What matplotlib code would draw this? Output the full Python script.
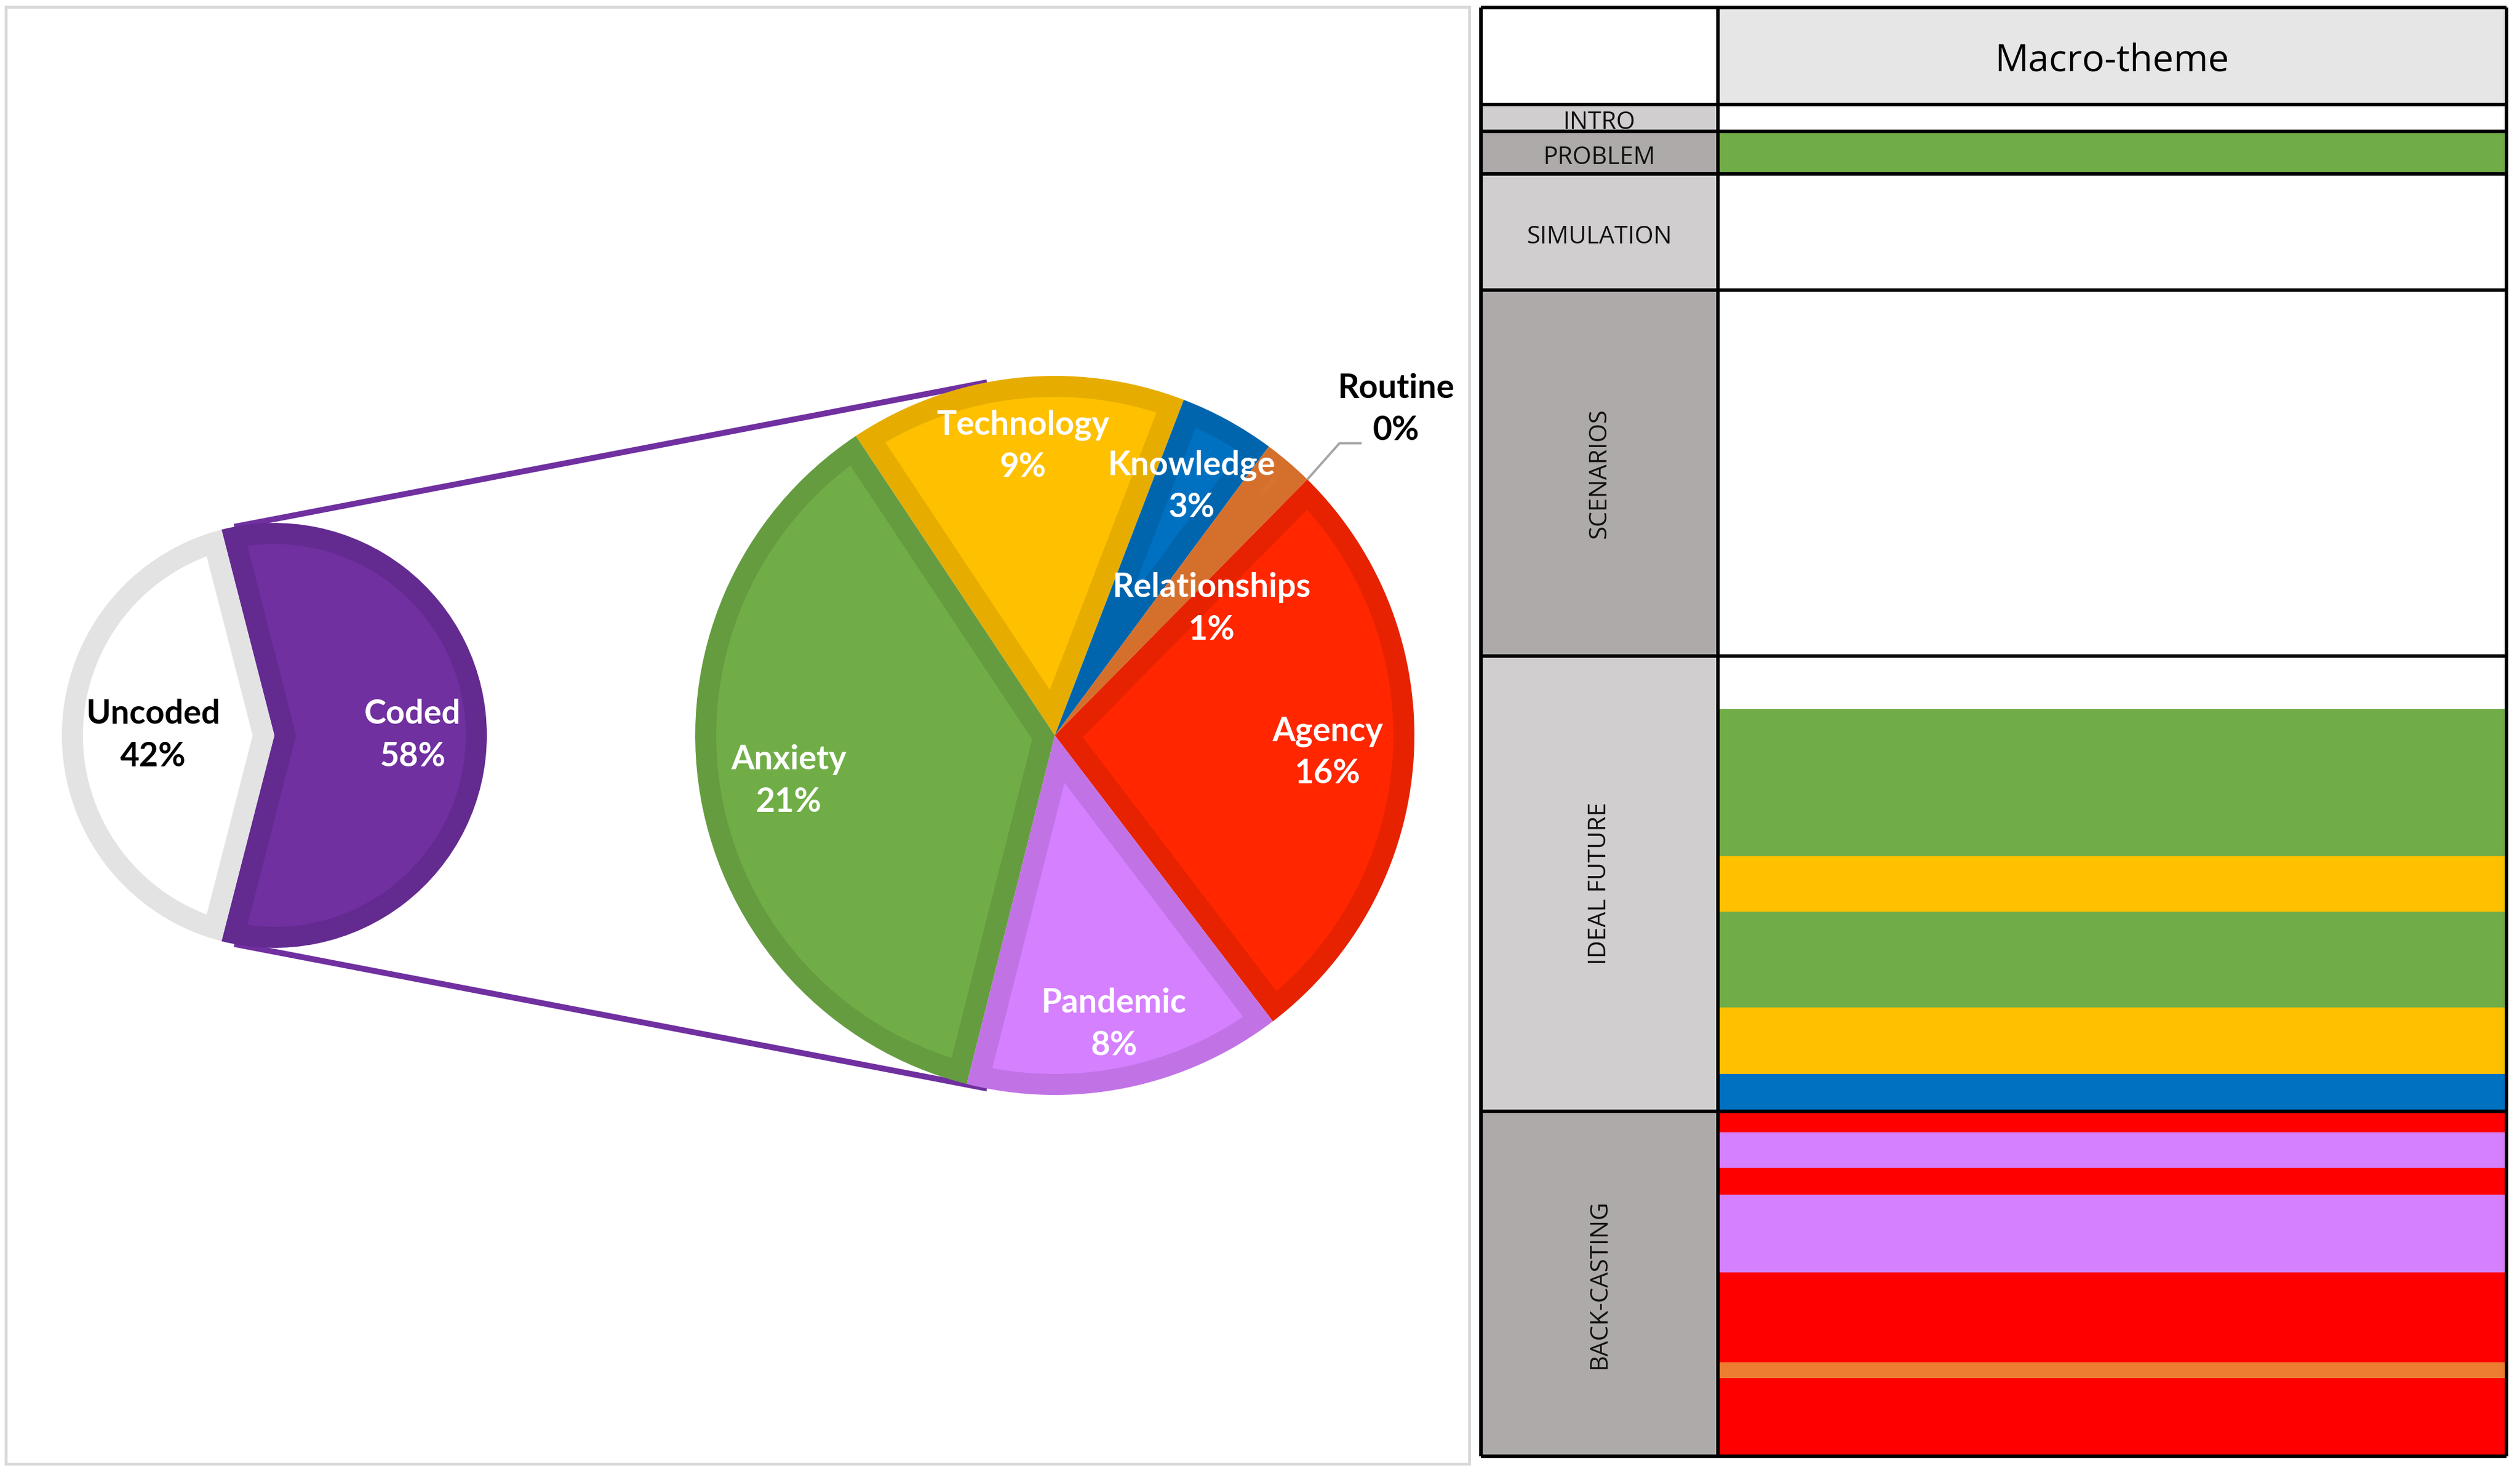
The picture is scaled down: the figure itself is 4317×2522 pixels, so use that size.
import numpy as np
import matplotlib.pyplot as plt
from matplotlib.patches import Rectangle

W, H = 4317, 2522

# ---- data ----
overview_labels = ['Coded', 'Uncoded']
overview_values = [58, 42]
overview_pct = ['58%', '42%']

theme_labels = ['Technology', 'Knowledge', 'Relationships', 'Routine', 'Agency', 'Pandemic', 'Anxiety']
theme_values = [8.8, 2.5, 1.3, 0.0, 15.8, 8.3, 21.3]
theme_pct = ['9%', '3%', '1%', '0%', '16%', '8%', '21%']

phase_names = ['INTRO', 'PROBLEM', 'SIMULATION', 'SCENARIOS', 'IDEAL FUTURE', 'BACK-CASTING']
phase_lengths = [46, 73, 199, 627, 780, 591]

intro_bands = [(None, 46)]
problem_bands = [('Anxiety', 73)]
simulation_bands = [(None, 199)]
scenarios_bands = [(None, 627)]
ideal_future_bands = [(None, 91), ('Anxiety', 252), ('Technology', 95), ('Anxiety', 164),
                      ('Technology', 114), ('Knowledge', 64)]
back_casting_bands = [('Agency', 36), ('Pandemic', 61), ('Agency', 46), ('Pandemic', 133),
                      ('Agency', 154), ('Relationships', 27), ('Agency', 134)]

# ---- styles ----
pie_fill = {'Technology': '#ffc000', 'Knowledge': '#0070c0', 'Relationships': '#d8722f',
            'Routine': '#a5a5a5', 'Agency': '#ff2600', 'Pandemic': '#d580ff', 'Anxiety': '#70ad47'}
pie_edge = {'Technology': '#e6ad00', 'Knowledge': '#0065ad', 'Relationships': '#d5702c',
            'Routine': '#959595', 'Agency': '#e62200', 'Pandemic': '#c173e6', 'Anxiety': '#659c40'}
band_color = {'Anxiety': '#70ad47', 'Technology': '#ffc000', 'Knowledge': '#0070c0',
              'Agency': '#ff0000', 'Pandemic': '#d580ff', 'Relationships': '#ed7d31', None: 'white'}
phase_fill = ['#d0cece', '#aeaaaa', '#d0cece', '#aeaaaa', '#d0cece', '#aeaaaa']

PX = 72 / 100  # points per pixel at dpi 100
LABEL_FONT = 'Lato'
TABLE_FONT = 'Open Sans'


def inner_part(w, b):
    # region of a wedge lying more than b inside its outline (for the inner border look)
    t1, t2 = np.deg2rad(w.theta1), np.deg2rad(w.theta2)
    s = t2 - t1
    if s <= 0:
        return None
    cx, cy = w.center
    R = w.r - b
    dv = b / np.sin(s / 2)
    if dv >= R:
        return None
    mid = (t1 + t2) / 2
    da = np.arcsin(b / R)
    arc = np.linspace(t1 + da, t2 - da, 300)
    xs = np.r_[cx + dv * np.cos(mid), cx + R * np.cos(arc)]
    ys = np.r_[cy + dv * np.sin(mid), cy + R * np.sin(arc)]
    return xs, ys


fig = plt.figure(figsize=(W / 100, H / 100), dpi=100)
ax = fig.add_axes([0, 0, 1, 1])

# ---- pie of pie ----
c1, r1 = (470, 1262), 364
c2, r2 = (1807, 1262), 616
border = 36

w1, _ = ax.pie(overview_values, center=c1, radius=r1, startangle=104.4, counterclock=False,
               colors=['#632a90', '#e3e3e3'], wedgeprops=dict(linewidth=0))
for w, fc in zip(w1, ['#7030a0', 'white']):
    w.set_zorder(3)
    part = inner_part(w, border)
    if part is not None:
        ax.fill(*part, color=fc, lw=0, zorder=3.5)

w2, _ = ax.pie(theme_values, center=c2, radius=r2, startangle=123.6, counterclock=False,
               colors=[pie_edge[t] for t in theme_labels], wedgeprops=dict(linewidth=0))
for w, t in zip(w2, theme_labels):
    w.set_zorder(3)
    part = inner_part(w, border)
    if part is not None:
        ax.fill(*part, color=pie_fill[t], lw=0, zorder=3.5)

txt = dict(ha='center', va='center', fontsize=41, fontweight='bold', family=LABEL_FONT,
           linespacing=1.45, zorder=5)

# labels of the small pie
small_dist = [0.65, 0.57]
for w, lab, pct, d, col in zip(w1, overview_labels, overview_pct, small_dist, ['white', 'black']):
    a = np.deg2rad((w.theta1 + w.theta2) / 2)
    ax.text(c1[0] + d * r1 * np.cos(a), c1[1] + d * r1 * np.sin(a), f'{lab}\n{pct}',
            color=col, **txt)

# labels of the big pie
big_dist = {'Technology': (0.81, None), 'Knowledge': (0.79, None), 'Relationships': (0.56, 39),
            'Agency': (0.76, None), 'Pandemic': (0.82, None), 'Anxiety': (0.75, None)}
for w, lab, pct in zip(w2, theme_labels, theme_pct):
    if lab == 'Routine':
        a = np.deg2rad(w.theta1)
        rim = np.array([c2[0] + r2 * np.cos(a), c2[1] + r2 * np.sin(a)])
        knee = rim + [55, 62]
        end = knee + [38, 0]
        ax.plot([rim[0], knee[0], end[0]], [rim[1], knee[1], end[1]], color='#a6a6a6',
                lw=4 * PX, zorder=4, solid_capstyle='butt')
        ax.text(end[0] + 59, end[1] + 58, f'{lab}\n{pct}', color='black', **txt)
        continue
    d, ang = big_dist[lab]
    if ang is None:
        ang = (w.theta1 + w.theta2) / 2
    a = np.deg2rad(ang)
    ax.text(c2[0] + d * r2 * np.cos(a), c2[1] + d * r2 * np.sin(a), f'{lab}\n{pct}',
            color='white', **txt)

# connector lines: outer common tangents of the two pies
dist = c2[0] - c1[0]
phi = np.arcsin((r2 - r1) / dist)
for sgn in (1, -1):
    a = sgn * (np.pi / 2 + phi)
    p1 = (c1[0] + r1 * np.cos(a), c1[1] + r1 * np.sin(a))
    p2 = (c2[0] + r2 * np.cos(a), c2[1] + r2 * np.sin(a))
    ax.plot([p1[0], p2[0]], [p1[1], p2[1]], color='#7030a0', lw=10 * PX,
            solid_capstyle='butt', zorder=2)

ax.add_patch(Rectangle((10, H - 2508), 2507, 2496, fill=False, edgecolor='#d9d9d9',
                       lw=5 * PX, zorder=1))
ax.set_xlim(0, W)
ax.set_ylim(0, H)
ax.set_aspect('auto')
ax.axis('off')

# ---- macro-theme table ----
header_h = 166
col_w = [406, 1351]
total_h = header_h + sum(phase_lengths)
x0, y0 = 2537, 13
ax_t = fig.add_axes([x0 / W, 1 - (y0 + total_h) / H, sum(col_w) / W, total_h / H])
ax_t.set_xlim(0, sum(col_w))
ax_t.set_ylim(total_h, 0)
ax_t.axis('off')

# header
ax_t.bar(col_w[0] / 2, header_h, bottom=0, width=col_w[0], color='white')
ax_t.bar(col_w[0] + col_w[1] / 2, header_h, bottom=0, width=col_w[1], color='#e7e6e6')
ax_t.text(col_w[0] + col_w[1] / 2, header_h / 2 + 8, 'Macro-theme', ha='center', va='center',
          fontsize=46, family=TABLE_FONT, color='black')

all_bands = [intro_bands, problem_bands, simulation_bands, scenarios_bands,
             ideal_future_bands, back_casting_bands]
top = header_h
bounds = [0, header_h]
for name, length, fill, bands in zip(phase_names, phase_lengths, phase_fill, all_bands):
    ax_t.bar(col_w[0] / 2, length, bottom=top, width=col_w[0], color=fill)
    b = top
    for theme, seg in bands:
        ax_t.bar(col_w[0] + col_w[1] / 2, seg, bottom=b, width=col_w[1],
                 color=band_color[theme], linewidth=0)
        b += seg
    vertical = length > 400
    ty = top + length / 2 + (0 if vertical else 8)
    ax_t.text(col_w[0] / 2, ty, name, ha='center', va='center', fontsize=30,
              family=TABLE_FONT, color='#111111', rotation=90 if vertical else 0)
    top += length
    bounds.append(top)

ax_t.hlines(bounds, 0, sum(col_w), colors='black', lw=6 * PX, clip_on=False)
ax_t.vlines([0, col_w[0], sum(col_w)], 0, total_h, colors='black', lw=6 * PX, clip_on=False)

fig.savefig('out.png', dpi=100, facecolor='white')
